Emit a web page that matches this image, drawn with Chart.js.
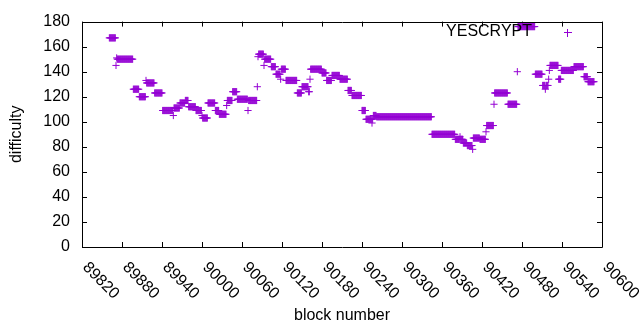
<!DOCTYPE html>
<html>
<head>
<meta charset="utf-8">
<script src="https://cdn.jsdelivr.net/npm/chart.js@4.4.1/dist/chart.umd.min.js"></script>
<style>
  body { margin: 0; background: #fff; }
  canvas { display: block; }
</style>
</head>
<body>
<canvas id="myChart" width="640" height="330"></canvas>
<script>
// runs of blocks with the same difficulty
const runStart = [89861, 89871, 89872, 89873, 89897, 89906, 89916, 89917, 89929, 89941, 89957, 89958, 89967, 89975, 89980, 89991, 90000, 90001, 90009, 90020, 90026, 90037, 90038, 90046, 90053, 90069, 90070, 90083, 90084, 90085, 90093, 90094, 90104, 90111, 90118, 90119, 90126, 90143, 90150, 90160, 90162, 90163, 90180, 90187, 90195, 90207, 90219, 90225, 90240, 90246, 90255, 90256, 90257, 90262, 90345, 90380, 90387, 90388, 90392, 90398, 90406, 90407, 90417, 90426, 90427, 90438, 90439, 90459, 90473, 90474, 90500, 90511, 90515, 90516, 90520, 90521, 90522, 90535, 90539, 90558, 90573, 90579];
const runEnd   = [89870, 89871, 89872, 89896, 89905, 89915, 89916, 89928, 89940, 89956, 89957, 89966, 89974, 89979, 89990, 89999, 90000, 90008, 90019, 90025, 90036, 90037, 90045, 90052, 90068, 90069, 90082, 90083, 90084, 90092, 90093, 90103, 90110, 90117, 90118, 90125, 90142, 90149, 90159, 90161, 90162, 90179, 90186, 90194, 90206, 90218, 90224, 90239, 90245, 90254, 90255, 90256, 90261, 90344, 90379, 90386, 90387, 90391, 90397, 90405, 90406, 90416, 90425, 90426, 90437, 90438, 90458, 90472, 90473, 90499, 90510, 90514, 90515, 90519, 90520, 90521, 90534, 90538, 90557, 90572, 90578, 90588];
const runValue = [167, 145, 151, 150, 126, 120, 133, 131, 123, 109, 105, 111, 115, 117, 112, 109, 105, 103, 115, 109, 106, 113, 117, 124, 118, 109, 117, 128, 152, 154, 145, 150, 144, 138, 134, 142, 133, 123, 128, 124, 134, 142, 139, 133, 137, 134, 125, 121, 109, 102, 99, 102, 105, 104, 90, 86, 88, 86, 83, 81, 78, 87, 86, 92, 97, 114, 123, 114, 140, 176, 138, 129, 126, 129, 134, 141, 145, 134, 141, 144, 136, 132];

const xTickLabels = [89820, 89880, 89940, 90000, 90060, 90120, 90180, 90240, 90300, 90360, 90420, 90480, 90540, 90600];
const yTickLabels = [0, 20, 40, 60, 80, 100, 120, 140, 160, 180];
const seriesName = 'YESCRYPT';

const points = [];
for (let i = 0; i < runStart.length; i++) {
  for (let b = runStart[i]; b <= runEnd[i]; b++) {
    points.push({x: b, y: runValue[i]});
  }
}

const FONT = '"Liberation Sans", Arial, sans-serif';
const purple = '#9400d3';

const frame = {
  id: 'frame',
  beforeDatasetsDraw(chart) {
    const ctx = chart.ctx;
    const a = chart.chartArea;
    const xs = chart.scales.x, ys = chart.scales.y;
    ctx.save();
    ctx.strokeStyle = '#000';
    ctx.lineWidth = 1;
    ctx.beginPath();
    ctx.rect(Math.round(a.left) + 0.5, Math.round(a.top) + 0.5, Math.round(a.right - a.left), Math.round(a.bottom - a.top));
    xTickLabels.forEach(v => {
      const px = Math.round(xs.getPixelForValue(v)) + 0.5;
      ctx.moveTo(px, a.bottom); ctx.lineTo(px, a.bottom - 5);
      ctx.moveTo(px, a.top); ctx.lineTo(px, a.top + 5);
    });
    yTickLabels.forEach(v => {
      const py = Math.round(ys.getPixelForValue(v)) + 0.5;
      ctx.moveTo(a.left, py); ctx.lineTo(a.left + 5, py);
      ctx.moveTo(a.right, py); ctx.lineTo(a.right - 5, py);
    });
    ctx.stroke();

    ctx.fillStyle = '#000';
    ctx.font = '16px ' + FONT;
    ctx.textAlign = 'left';
    ctx.textBaseline = 'middle';
    xTickLabels.forEach(v => {
      const px = xs.getPixelForValue(v);
      ctx.save();
      ctx.translate(px + 3, a.bottom + 18);
      ctx.rotate(Math.PI / 4);
      ctx.fillText(String(v), 0, 0);
      ctx.restore();
    });

    ctx.textAlign = 'center';
    ctx.fillText('block number', (a.left + a.right) / 2, 316);
    ctx.save();
    ctx.translate(17, (a.top + a.bottom) / 2);
    ctx.rotate(-Math.PI / 2);
    ctx.fillText('difficulty', 0, 0);
    ctx.restore();
    ctx.restore();
  },
  afterDatasetsDraw(chart) {
    const ctx = chart.ctx;
    ctx.save();
    ctx.fillStyle = '#000';
    ctx.font = '16px ' + FONT;
    ctx.textAlign = 'right';
    ctx.textBaseline = 'middle';
    ctx.fillText(chart.data.datasets[0].label, 532, 31.5);
    ctx.strokeStyle = purple;
    ctx.lineWidth = 1;
    ctx.beginPath();
    ctx.moveTo(564, 32.5); ctx.lineTo(572, 32.5);
    ctx.moveTo(567.5, 29); ctx.lineTo(567.5, 37);
    ctx.stroke();
    ctx.restore();
  }
};

new Chart(document.getElementById('myChart'), {
  type: 'scatter',
  data: {
    datasets: [{
      label: seriesName,
      data: points,
      pointStyle: 'cross',
      pointRadius: 3.6,
      pointHoverRadius: 3.6,
      borderColor: purple,
      backgroundColor: purple,
      pointBorderWidth: 1,
      showLine: false,
      clip: false
    }]
  },
  options: {
    responsive: false,
    animation: false,
    events: [],
    layout: { padding: { top: 16, right: 38, left: 0, bottom: 0 } },
    plugins: { legend: { display: false }, tooltip: { enabled: false } },
    scales: {
      x: {
        type: 'linear',
        min: 89820, max: 90600,
        ticks: { display: false, stepSize: 60 },
        grid: { display: false },
        border: { display: false },
        afterFit(s) { s.height = 83; }
      },
      y: {
        min: 0, max: 180,
        ticks: {
          stepSize: 20,
          padding: 12,
          color: '#000',
          font: { family: FONT, size: 16 },
          callback: v => yTickLabels.includes(v) ? String(v) : ''
        },
        grid: { display: false, drawTicks: false },
        border: { display: false },
        afterFit(s) { s.width = 82; }
      }
    }
  },
  plugins: [frame]
});
</script>
</body>
</html>
